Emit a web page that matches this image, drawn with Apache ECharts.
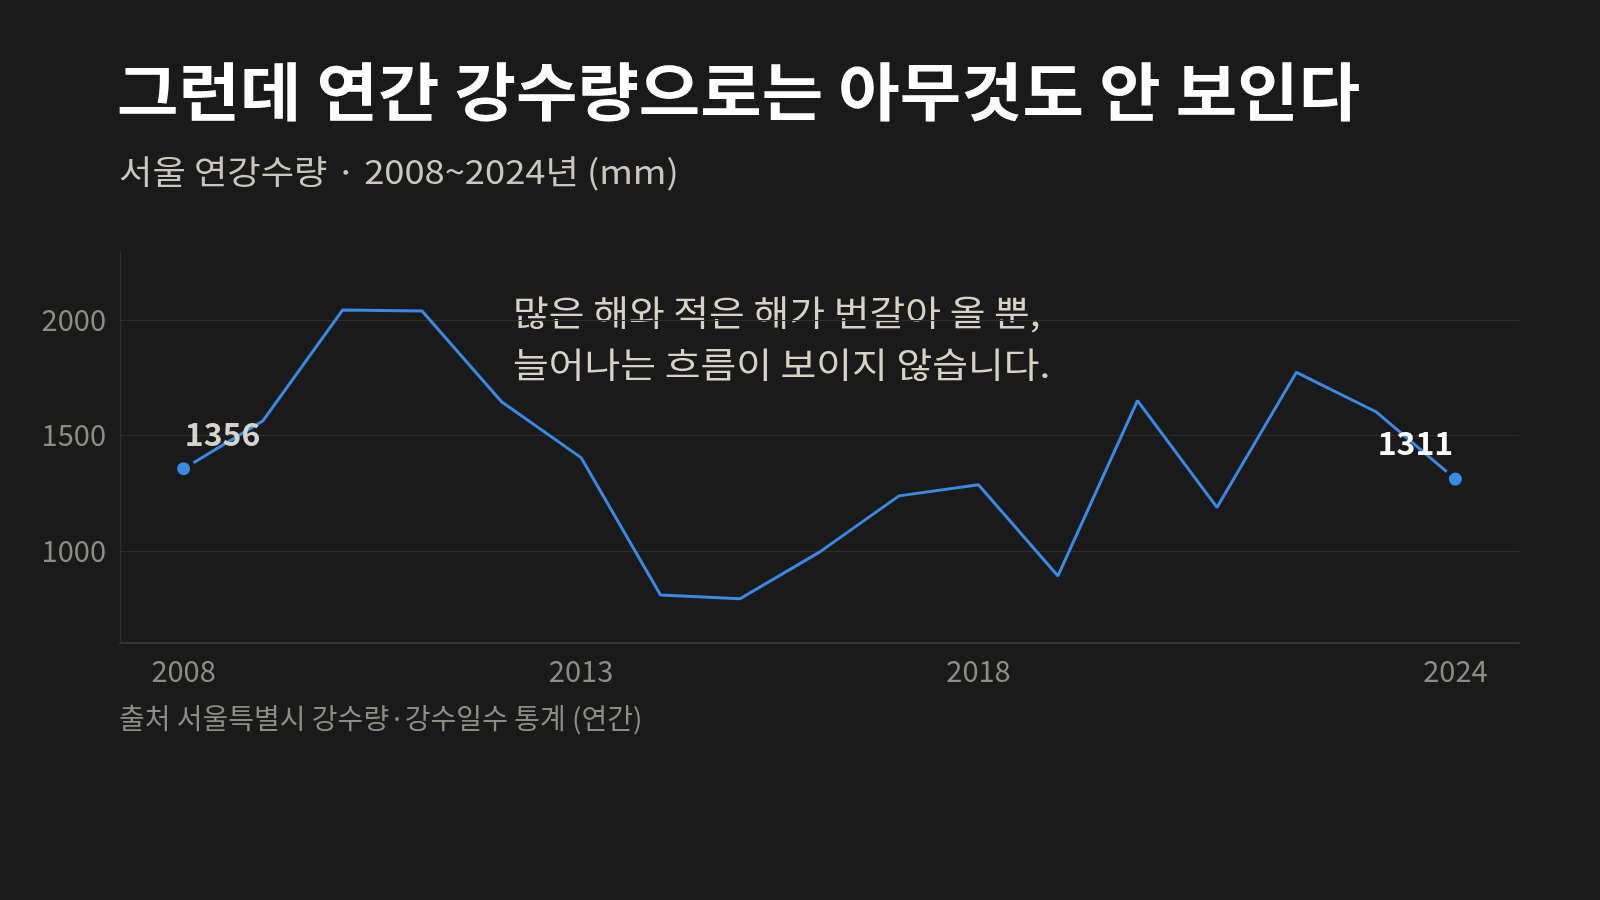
<!DOCTYPE html>
<html>
<head>
<meta charset="utf-8">
<script src="https://cdn.jsdelivr.net/npm/echarts@6/dist/echarts.min.js"></script>
<style>
	html, body { margin: 0; padding: 0; background: #1a1a1a; }
	#chart { width: 1600px; height: 900px; }
</style>
</head>
<body>
<div id="chart"></div>
<script>
// 연도 / 연강수량 (mm)
var years = [2008, 2009, 2010, 2011, 2012, 2013, 2014, 2015, 2016, 2017, 2018, 2019, 2020, 2021, 2022, 2023, 2024]
var rain = [1356, 1564, 2044, 2040, 1646, 1404, 808, 792, 994, 1238, 1286, 891, 1651, 1188, 1774, 1603, 1311]
var xTicks = [2008, 2013, 2018, 2024]
var yTicks = [1000, 1500, 2000]

var font = '"Noto Sans CJK KR", "Noto Sans", sans-serif'

var lineData = []
for (var i = 0; i < years.length; i++) {
	lineData.push([years[i], rain[i]])
}
var last = years.length - 1

// 글자 블록 (x, 가운데 y, 크기, 가로 배율)
function textItem(str, x, y, size, weight, color, sx) {
	return {
		type: 'text',
		x: x,
		y: y,
		scaleX: sx,
		style: {
			text: str,
			fill: color,
			fontSize: size,
			fontWeight: weight,
			fontFamily: font,
			align: 'left',
			verticalAlign: 'middle'
		}
	}
}

var option = {
	backgroundColor: '#1a1a1a',
	animation: false,
	graphic: [
		textItem('그런데 연간 강수량으로는 아무것도 안 보인다', 117, 91, 63, 'bold', '#ffffff', 1.06),
		textItem('서울 연강수량 · 2008~2024년 (mm)', 119, 171, 33, 'normal', '#c9c6bd', 1.1),
		textItem('많은 해와 적은 해가 번갈아 올 뿐,', 513, 313, 35, 'normal', '#d6d2c6', 1.11),
		textItem('늘어나는 흐름이 보이지 않습니다.', 513, 365, 35, 'normal', '#d6d2c6', 1.11),
		textItem('출처 서울특별시 강수량·강수일수 통계 (연간)', 119, 718, 28, 'normal', '#8e8c85', 1)
	],
	grid: { left: 120, right: 81, top: 251, bottom: 257 },
	xAxis: {
		type: 'value',
		min: 2007.2,
		max: 2024.8,
		axisLine: { show: true, lineStyle: { color: '#333333', width: 2 } },
		axisTick: { show: false, customValues: xTicks },
		axisLabel: {
			customValues: xTicks, color: '#8e8c85', fontSize: 29, fontFamily: font, margin: 13,
			formatter: function (v) { return String(v) }
		},
		splitLine: { show: false }
	},
	yAxis: {
		type: 'value',
		min: 600,
		max: 2300,
		axisLine: { show: true, lineStyle: { color: '#2e2e2e', width: 1 } },
		axisTick: { show: false, customValues: yTicks },
		axisLabel: {
			customValues: yTicks, color: '#8e8c85', fontSize: 29, fontFamily: font, margin: 14,
			formatter: function (v) { return String(v) }
		},
		splitLine: { show: true, lineStyle: { color: '#2e2e2e', width: 1 } }
	},
	series: [{
		type: 'line',
		data: lineData,
		symbol: 'none',
		lineStyle: { color: '#3a89e4', width: 3 },
		z: 2
	}, {
		type: 'scatter',
		symbolSize: 18,
		itemStyle: { color: '#3a89e4', borderColor: '#1a1a1a', borderWidth: 5, opacity: 1 },
		z: 3,
		data: [{
			value: lineData[0],
			label: {
				show: true, position: 'inside', offset: [39, -35],
				formatter: String(rain[0]),
				color: '#d6d3cb', fontSize: 32, fontWeight: 'bold', fontFamily: font
			}
		}, {
			value: lineData[last],
			label: {
				show: true, position: 'inside', offset: [-40, -36],
				formatter: String(rain[last]),
				color: '#ffffff', fontSize: 32, fontWeight: 'bold', fontFamily: font
			}
		}]
	}]
}

var chart = echarts.init(document.getElementById('chart'))
chart.setOption(option)
</script>
</body>
</html>
